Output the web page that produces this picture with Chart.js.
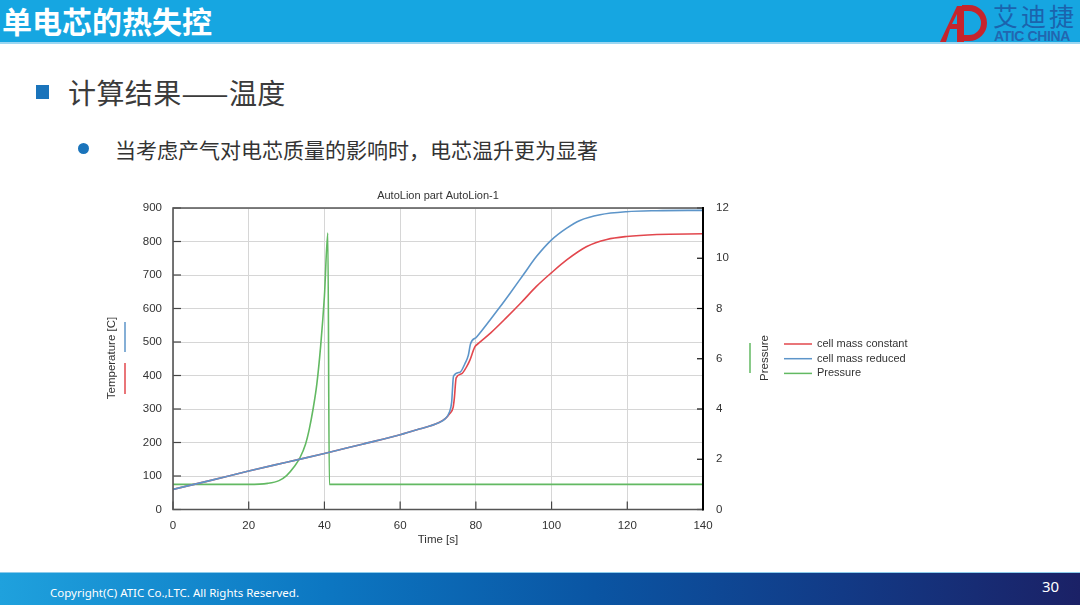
<!DOCTYPE html>
<html>
<head>
<meta charset="utf-8">
<script src="https://cdn.jsdelivr.net/npm/chart.js@4.4.1/dist/chart.umd.min.js"></script>
<style>
  body { margin: 0; width: 1080px; height: 605px; overflow: hidden; background: #fff; position: relative;
         font-family: "Noto Sans CJK SC", "Noto Sans", sans-serif; }
  .header { position: absolute; left: 0; top: 0; width: 1080px; height: 42px; background: #16a6e1;
            border-bottom: 2px solid #9bd6f1; }
  .header .title { position: absolute; left: 2px; top: 0; line-height: 40px; font-size: 30px; font-weight: bold; color: #fff; }
  .logo-cn { position: absolute; left: 993px; top: 0px; font-size: 25px; color: #1b63ad; letter-spacing: 3px; line-height: 30px; }
  .logo-en { position: absolute; left: 994px; top: 29px; font-family: "Liberation Sans", sans-serif; font-size: 14px;
             font-weight: bold; color: #2266b0; letter-spacing: -0.4px; line-height: 14px; }
  .logo-mark { position: absolute; left: 938px; top: 3px; }
  .sq { position: absolute; left: 36px; top: 85px; width: 13px; height: 14px; background: #1a74bb; }
  .h2 { position: absolute; left: 68px; top: 72px; font-size: 28px; color: #3b3b3b; line-height: 40px; letter-spacing: 0.4px; }
  .dot { position: absolute; left: 78px; top: 143px; width: 11px; height: 11px; border-radius: 50%; background: #1a74bb; }
  .bullet { position: absolute; left: 115px; top: 134px; font-size: 21px; color: #333; line-height: 30px; }
  .chartbox { position: absolute; left: 100px; top: 180px; width: 860px; height: 370px; }
  .footer { position: absolute; left: 0; top: 572px; width: 1080px; height: 33px;
            background: linear-gradient(90deg, #1fa1dd 0%, #0c77c2 30%, #0a55a3 55%, #123a86 78%, #1b2166 100%);
            border-top: 1px solid #8ccbeb; }
  .copy { position: absolute; left: 50px; top: 12px; font-family: "Liberation Sans Narrow", "Noto Sans", sans-serif;
          font-size: 11.5px; color: #fff; }
  .page { position: absolute; left: 1042px; top: 3px; font-family: "Liberation Sans Narrow", "Noto Sans", sans-serif;
          font-size: 15px; color: #fff; }
</style>
</head>
<body>
<div class="header">
  <div class="title">单电芯的热失控</div>
  <svg class="logo-mark" width="54" height="40" viewBox="0 0 54 40">
    <path d="M24 5 H31 A15 15 0 0 1 31 35 H24" fill="none" stroke="#c6242c" stroke-width="6"/>
    <polygon points="2,39 19,3 26,3 26,39 19,39 19,26 12,26 8,39" fill="#c6242c"/>
    <polygon points="14,21 19,21 19,11" fill="#16a6e1"/>
  </svg>
  <div class="logo-cn">艾迪捷</div>
  <div class="logo-en">ATIC CHINA</div>
</div>

<div class="sq"></div>
<div class="h2">计算结果——温度</div>
<div class="dot"></div>
<div class="bullet">当考虑产气对电芯质量的影响时，电芯温升更为显著</div>

<div class="chartbox"><canvas id="c" width="860" height="370"></canvas></div>

<div class="footer">
  <div class="copy">Copyright(C) ATIC Co.,LTC. All Rights Reserved.</div>
  <div class="page">30</div>
</div>

<script>
// time [s] and temperature [C], cell mass constant
const timeConst = [0, 10, 20, 30, 40, 50, 60, 65, 70, 72, 73, 74, 74.3, 74.8, 76.2, 77.5, 78.4, 79.7, 80.6,
  84, 88, 92, 96, 100, 104, 109.3, 114.6, 119.8, 127.8, 140];
const tempConst = [60, 87, 115, 141, 167, 195, 223, 240, 258, 272, 285, 305, 330, 393, 405, 425, 445, 485, 495,
  528, 572, 618, 666, 707, 745, 785, 806, 815, 821, 823];

// cell mass reduced
const timeReduced = [0, 10, 20, 30, 40, 50, 60, 65, 70, 72, 73, 73.6, 74.1, 75.8, 77.1, 78, 78.6, 80.2,
  83.7, 86.4, 89, 92.5, 96, 100, 104, 107.5, 112.8, 119.8, 127.8, 140];
const tempReduced = [60, 87, 115, 141, 167, 195, 223, 240, 258, 272, 290, 320, 398, 410, 435, 460, 495, 515,
  565, 605, 645, 700, 755, 805, 840, 863, 880, 889, 892, 893];

// pressure (right axis)
const timePressure = [0, 20, 25, 28, 30, 32, 33.5, 35, 36, 37, 38, 39, 40, 40.9, 41.3, 80, 140];
const pressure = [1, 1, 1.04, 1.15, 1.35, 1.7, 2.05, 2.6, 3.2, 4.0, 5.0, 6.5, 8.5, 11.0, 1, 1, 1];

const xTicks = [0, 140, 20];
const tempTicks = [0, 900, 100];
const pressTicks = [0, 12, 2];

const RED = '#e2474d', BLUE = '#5d95c9', GREEN = '#62b962';
const FONT = '"Liberation Sans", Arial, sans-serif';

const pts = (xs, ys) => xs.map((x, i) => ({ x: x, y: ys[i] }));

const decor = {
  id: 'decor',
  afterDraw(chart) {
    const { ctx, chartArea: a, scales } = chart;
    ctx.save();
    // inward tick marks
    ctx.strokeStyle = '#444';
    ctx.lineWidth = 1.2;
    scales.y.ticks.forEach(t => {
      const y = scales.y.getPixelForValue(t.value);
      ctx.beginPath(); ctx.moveTo(a.left, y); ctx.lineTo(a.left + 8, y); ctx.stroke();
    });
    scales.x.ticks.forEach(t => {
      const x = scales.x.getPixelForValue(t.value);
      ctx.beginPath(); ctx.moveTo(x, a.bottom); ctx.lineTo(x, a.bottom - 8); ctx.stroke();
    });
    ctx.strokeStyle = '#111';
    scales.y2.ticks.forEach(t => {
      const y = scales.y2.getPixelForValue(t.value);
      ctx.beginPath(); ctx.moveTo(a.right, y); ctx.lineTo(a.right - 6, y); ctx.stroke();
    });
    // frame
    ctx.strokeStyle = '#555';
    ctx.lineWidth = 1.6;
    ctx.beginPath();
    ctx.moveTo(a.right, a.top); ctx.lineTo(a.left, a.top); ctx.lineTo(a.left, a.bottom); ctx.lineTo(a.right, a.bottom);
    ctx.stroke();
    ctx.strokeStyle = '#000';
    ctx.lineWidth = 2;
    ctx.beginPath(); ctx.moveTo(a.right, a.top - 1); ctx.lineTo(a.right, a.bottom + 1); ctx.stroke();

    // titles
    ctx.fillStyle = '#333';
    ctx.font = '11px ' + FONT;
    ctx.textAlign = 'center';
    ctx.textBaseline = 'middle';
    const cx = (a.left + a.right) / 2;
    ctx.fillText('AutoLion part AutoLion-1', cx, 16);
    ctx.font = '11.5px ' + FONT;
    ctx.fillText('Time [s]', cx, 360);

    ctx.save();
    ctx.translate(12, 178); ctx.rotate(-Math.PI / 2);
    ctx.fillText('Temperature [C]', 0, 0);
    ctx.restore();
    ctx.save();
    ctx.translate(665, 178); ctx.rotate(-Math.PI / 2);
    ctx.fillText('Pressure', 0, 0);
    ctx.restore();

    // axis title markers
    ctx.lineWidth = 1.5;
    ctx.strokeStyle = BLUE;
    ctx.beginPath(); ctx.moveTo(25, 142); ctx.lineTo(25, 172); ctx.stroke();
    ctx.strokeStyle = RED;
    ctx.beginPath(); ctx.moveTo(25, 183); ctx.lineTo(25, 214); ctx.stroke();
    ctx.strokeStyle = GREEN;
    ctx.beginPath(); ctx.moveTo(650, 163); ctx.lineTo(650, 193); ctx.stroke();

    // legend
    ctx.textAlign = 'left';
    ctx.font = '11px ' + FONT;
    chart.data.datasets.forEach((ds, i) => {
      const y = 164 + i * 14.7;
      ctx.strokeStyle = ds.borderColor;
      ctx.beginPath(); ctx.moveTo(684, y); ctx.lineTo(712, y); ctx.stroke();
      ctx.fillStyle = '#333';
      ctx.fillText(ds.label, 717, y);
    });
    ctx.restore();
  }
};

new Chart(document.getElementById('c'), {
  type: 'line',
  data: {
    datasets: [
      { label: 'cell mass constant', data: pts(timeConst, tempConst), borderColor: RED, yAxisID: 'y', order: 1 },
      { label: 'cell mass reduced', data: pts(timeReduced, tempReduced), borderColor: BLUE, yAxisID: 'y', order: 0 },
      { label: 'Pressure', data: pts(timePressure, pressure), borderColor: GREEN, yAxisID: 'y2', order: 2 }
    ]
  },
  options: {
    responsive: false,
    animation: false,
    layout: { padding: { left: 28, top: 28, right: 222, bottom: 20 } },
    elements: {
      point: { radius: 0 },
      line: { borderWidth: 1.6, tension: 0, cubicInterpolationMode: 'monotone' }
    },
    plugins: { legend: { display: false }, tooltip: { enabled: false } },
    scales: {
      x: {
        type: 'linear', min: xTicks[0], max: xTicks[1],
        ticks: { stepSize: xTicks[2], padding: 9, color: '#333', font: { family: FONT, size: 11.5 }, maxRotation: 0 },
        grid: { color: '#d6d6d6', drawTicks: false },
        border: { display: false },
        afterFit: s => { s.height = 20.5; }
      },
      y: {
        position: 'left', min: tempTicks[0], max: tempTicks[1],
        ticks: { stepSize: tempTicks[2], padding: 11, color: '#333', font: { family: FONT, size: 11.5 } },
        grid: { color: '#d6d6d6', drawTicks: false },
        border: { display: false },
        afterFit: s => { s.width = 45; }
      },
      y2: {
        position: 'right', min: pressTicks[0], max: pressTicks[1],
        ticks: { stepSize: pressTicks[2], padding: 13, color: '#333', font: { family: FONT, size: 11.5 } },
        grid: { display: false, drawTicks: false },
        border: { display: false },
        afterFit: s => { s.width = 35; }
      }
    }
  },
  plugins: [decor]
});
</script>
</body>
</html>
